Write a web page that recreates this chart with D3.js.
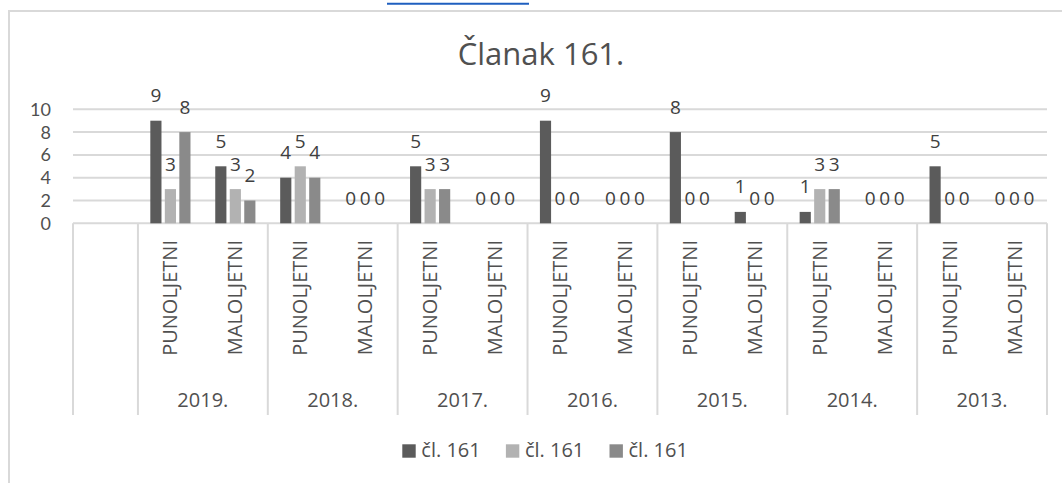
<!DOCTYPE html>
<html>
<head>
<meta charset="utf-8">
<script src="https://cdn.jsdelivr.net/npm/d3@7"></script>
<style>
  html, body { margin: 0; padding: 0; background: #fff; }
  svg { display: block; font-family: "Open Sans", "Noto Sans", sans-serif; }
</style>
</head>
<body>
<svg id="chart" width="1062" height="483"></svg>
<script>
// Chart data: years, age groups and three series of counts per (year, group)
const title = "Članak 161.";
const years = ["2019.", "2018.", "2017.", "2016.", "2015.", "2014.", "2013."];
const groups = ["PUNOLJETNI", "MALOLJETNI"];
const seriesNames = ["čl. 161", "čl. 161", "čl. 161"];
const seriesA = [9, 5, 4, 0, 5, 0, 9, 0, 8, 1, 1, 0, 5, 0];
const seriesB = [3, 3, 5, 0, 3, 0, 0, 0, 0, 0, 3, 0, 0, 0];
const seriesC = [8, 2, 4, 0, 3, 0, 0, 0, 0, 0, 3, 0, 0, 0];
const yTicks = [0, 2, 4, 6, 8, 10];
const colors = ["#5b5b5b", "#b2b2b2", "#8a8a8a"];
const textColor = "#505050";

const svg = d3.select("#chart");

// chart frame (runs past the right and bottom edges of the page)
svg.append("rect")
  .attr("x", 9).attr("y", 11)
  .attr("width", 1100).attr("height", 520)
  .attr("fill", "#fff").attr("stroke", "#d9d9d9").attr("stroke-width", 2);

// underline of a link in the text line above the chart
svg.append("line")
  .attr("x1", 387).attr("x2", 529).attr("y1", 3.7).attr("y2", 3.7)
  .attr("stroke", "#1f5fbf").attr("stroke-width", 2);

// leaf categories: one blank slot, then year x group
const slots = ["_blank"];
const slotGroup = [null];
years.forEach(yr => groups.forEach(g => {
  slots.push(yr + "|" + g); slotGroup.push(g);
}));

const series = [seriesA, seriesB, seriesC];
const rows = [];
slots.forEach((s, i) => {
  if (i === 0) return;
  series.forEach((vals, k) => rows.push({ slot: s, k, v: vals[i - 1] }));
});

const plotLeft = 73, plotRight = 1047, plotTop = 109.3, plotBase = 223.3;
const x = d3.scaleBand().domain(slots).range([plotLeft, plotRight]).padding(0);
const y = d3.scaleLinear().domain([0, 10]).range([plotBase, plotTop]);
const inner = d3.scaleBand().domain([0, 1, 2])
  .range([-x.bandwidth() * 0.335, x.bandwidth() * 0.335])
  .paddingInner(0.23).paddingOuter(0.115);

// title
svg.append("text")
  .attr("x", 541).attr("y", 65)
  .attr("text-anchor", "middle")
  .attr("font-size", 31).attr("fill", textColor)
  .text(title);

// horizontal gridlines
svg.append("g").selectAll("line").data(yTicks).join("line")
  .attr("x1", plotLeft).attr("x2", plotRight)
  .attr("y1", d => y(d)).attr("y2", d => y(d))
  .attr("stroke", "#d9d9d9").attr("stroke-width", 2);

// value axis labels
svg.append("g").selectAll("text").data(yTicks).join("text")
  .attr("x", 51).attr("y", d => y(d))
  .attr("dy", "0.36em")
  .attr("text-anchor", "end")
  .style("font-family", "Lato, 'Open Sans', sans-serif")
  .attr("font-size", 18).attr("fill", textColor)
  .text(d => d);

// bars
const slotCenter = s => x(s) + x.bandwidth() / 2;
svg.append("g").selectAll("rect").data(rows).join("rect")
  .attr("x", d => slotCenter(d.slot) + inner(d.k))
  .attr("width", inner.bandwidth())
  .attr("y", d => y(d.v))
  .attr("height", d => y(0) - y(d.v))
  .attr("fill", d => colors[d.k]);

// value labels above bars
svg.append("g").selectAll("text").data(rows).join("text")
  .attr("x", d => slotCenter(d.slot) + inner(d.k) + inner.bandwidth() / 2)
  .attr("y", d => y(d.v) - 18.5)
  .attr("text-anchor", "middle")
  .attr("font-size", 19).attr("fill", "#404040")
  .text(d => d.v);

// category axis: boundaries between the blank slot and each year block
const axisBottom = 415;
const bounds = [x(slots[0])];
for (let i = 1; i < slots.length; i += 2) bounds.push(x(slots[i]));
bounds.push(x(slots[slots.length - 1]) + x.bandwidth());
svg.append("g").selectAll("line").data(bounds).join("line")
  .attr("x1", d => d).attr("x2", d => d)
  .attr("y1", plotBase).attr("y2", axisBottom)
  .attr("stroke", "#d9d9d9").attr("stroke-width", 2);

// rotated group labels
svg.append("g").selectAll("text").data(slots.slice(1)).join("text")
  .attr("transform", d => `translate(${slotCenter(d) + 7},240) rotate(-90)`)
  .attr("text-anchor", "end")
  .attr("font-size", 20).attr("fill", textColor)
  .text((d, i) => slotGroup[i + 1]);

// year labels centred under each pair of slots
svg.append("g").selectAll("text").data(years).join("text")
  .attr("x", (d, i) => x(slots[1 + 2 * i]) + x.bandwidth())
  .attr("y", 407)
  .attr("text-anchor", "middle")
  .attr("font-size", 20).attr("fill", textColor)
  .text(d => d);

// legend
const legend = svg.append("g").selectAll("g").data(seriesNames).join("g")
  .attr("transform", (d, i) => `translate(${402.3 + i * 103.6},444.3)`);
legend.append("rect")
  .attr("width", 13.4).attr("height", 13.4)
  .attr("fill", (d, i) => colors[i]);
legend.append("text")
  .attr("x", 19).attr("y", 13)
  .attr("font-size", 20).attr("fill", textColor)
  .text(d => d);
</script>
</body>
</html>
